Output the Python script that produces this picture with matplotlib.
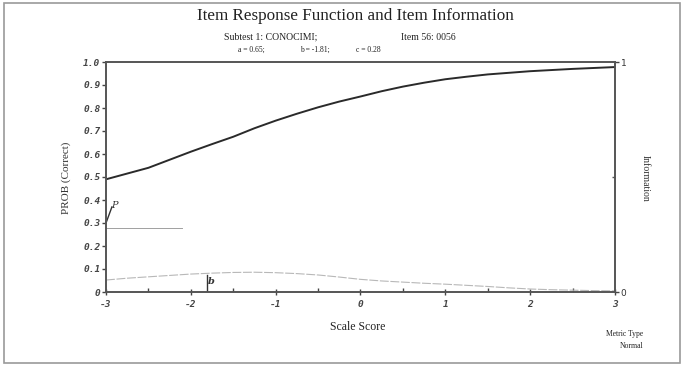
import matplotlib
matplotlib.use("Agg")
import matplotlib.pyplot as plt
from matplotlib.patches import Rectangle

# data
theta = [-3.0, -2.75, -2.5, -2.25, -2.0, -1.75, -1.5, -1.25, -1.0, -0.75, -0.5, -0.25, 0.0,
         0.25, 0.5, 0.75, 1.0, 1.25, 1.5, 1.75, 2.0, 2.25, 2.5, 2.75, 3.0]
prob = [0.490, 0.515, 0.540, 0.575, 0.610, 0.643, 0.675, 0.712, 0.745, 0.775, 0.803, 0.828, 0.850,
        0.873, 0.893, 0.910, 0.925, 0.936, 0.946, 0.953, 0.960, 0.965, 0.970, 0.974, 0.978]
info = [0.052, 0.060, 0.066, 0.072, 0.078, 0.082, 0.085, 0.086, 0.084, 0.080, 0.074, 0.065, 0.055,
        0.048, 0.043, 0.038, 0.034, 0.029, 0.024, 0.018, 0.013, 0.010, 0.008, 0.006, 0.005]
c_param = 0.28
b_param = -1.81
c_line_end = -2.1
yticks = [0.0, 0.1, 0.2, 0.3, 0.4, 0.5, 0.6, 0.7, 0.8, 0.9, 1.0]
ytick_labels = ["0", "0.1", "0.2", "0.3", "0.4", "0.5", "0.6", "0.7", "0.8", "0.9", "1.0"]
xticks = [-3, -2, -1, 0, 1, 2, 3]
xtick_labels = ["-3", "-2", "-1", "0", "1", "2", "3"]

W, H = 684, 367
fig = plt.figure(figsize=(W / 100, H / 100), dpi=100)
fig.patch.set_facecolor("white")

# outer frame
fig.add_artist(Rectangle((4 / W, 1 - 363 / H), 676 / W, 360 / H, transform=fig.transFigure,
                         fill=False, edgecolor="#9a9a9a", linewidth=1.2))

left, right, top, bottom = 106, 615, 62, 292
ax = fig.add_axes([left / W, 1 - bottom / H, (right - left) / W, (bottom - top) / H])
ax.set_xlim(-3, 3)
ax.set_ylim(0, 1.0)

ax.plot(theta, prob, color="#2a2a2a", linewidth=1.4, solid_capstyle="round")
ax.plot(theta, info, color="#b8b8b8", linewidth=0.8, linestyle=(0, (8, 1.5)))
ax.plot([-3, c_line_end], [c_param, c_param], color="#a0a0a0", linewidth=0.7)
ax.plot([b_param, b_param], [0, 0.075], color="#333333", linewidth=1.0)
ax.text(b_param + 0.015, 0.045, "b", fontsize=7, family="DejaVu Serif", style="italic",
        weight="bold", color="#333333", ha="left", va="center")
ax.plot([-3, -2.93], [0.30, 0.37], color="#333333", linewidth=1.0, clip_on=False)
ax.text(-2.94, 0.355, "P", fontsize=7, family="DejaVu Serif", style="italic",
        color="#333333", ha="left", va="bottom")

tick_font = dict(family="DejaVu Sans Mono", style="italic", weight="bold", size=6.8)
ax.set_yticks(yticks)
ax.set_yticklabels(ytick_labels, **tick_font, color="#444444")
ax.set_xticks(xticks)
ax.set_xticklabels(xtick_labels, **tick_font, color="#444444")
ax.set_xticks([-2.5, -1.5, -0.5, 0.5, 1.5, 2.5], minor=True)
ax.tick_params(axis="x", which="major", direction="inout", length=5, width=1, pad=3, color="#444444")
ax.tick_params(axis="x", which="minor", direction="in", length=3, width=1, color="#444444")
ax.tick_params(axis="y", which="major", direction="out", length=3, width=1, pad=1, color="#444444")

for s in ax.spines.values():
    s.set_color("#555555")
    s.set_linewidth(1.2)

ax2 = ax.twinx()
ax2.set_ylim(0, 1)
ax2.set_yticks([0, 1])
ax2.set_yticklabels(["0", "1"], family="DejaVu Sans", size=6.5, color="#333333")
ax2.set_yticks([0.5], minor=True)
ax2.tick_params(axis="y", which="major", direction="out", length=3, width=1, pad=1, color="#444444")
ax2.tick_params(axis="y", which="minor", direction="in", length=2, width=1, color="#555555")
for s in ax2.spines.values():
    s.set_color("#555555")
    s.set_linewidth(1.2)

serif = ["Liberation Serif", "DejaVu Serif"]
fig.text(355 / W, 1 - 16 / H, "Item Response Function and Item Information", family=serif,
         size=12.3, ha="center", va="center", color="#222222")
fig.text(271 / W, 1 - 37 / H, "Subtest 1: CONOCIMI;", family=serif, size=7, ha="center",
         va="center", color="#222222")
fig.text(428 / W, 1 - 37 / H, "Item 56: 0056", family=serif, size=7, ha="center",
         va="center", color="#222222")
fig.text(251 / W, 1 - 50 / H, "a = 0.65;", family=serif, size=5.5, ha="center", va="center", color="#222222")
fig.text(315 / W, 1 - 50 / H, "b = -1.81;", family=serif, size=5.5, ha="center", va="center", color="#222222")
fig.text(368 / W, 1 - 50 / H, "c = 0.28", family=serif, size=5.5, ha="center", va="center", color="#222222")

fig.text(66 / W, 1 - 178 / H, "PROB (Correct)", family=serif, size=8, rotation=90,
         ha="center", va="center", color="#333333")
fig.text(645 / W, 1 - 178 / H, "Information", family=serif, size=7, rotation=-90,
         ha="center", va="center", color="#333333")
fig.text(358 / W, 1 - 327 / H, "Scale Score", family=serif, size=8.5, ha="center",
         va="center", color="#222222")
fig.text(625 / W, 1 - 334 / H, "Metric Type", family=serif, size=5.5, ha="center",
         va="center", color="#222222")
fig.text(632 / W, 1 - 346 / H, "Normal", family=serif, size=5.5, ha="center",
         va="center", color="#222222")

fig.savefig("out.png", dpi=100, facecolor="white")
